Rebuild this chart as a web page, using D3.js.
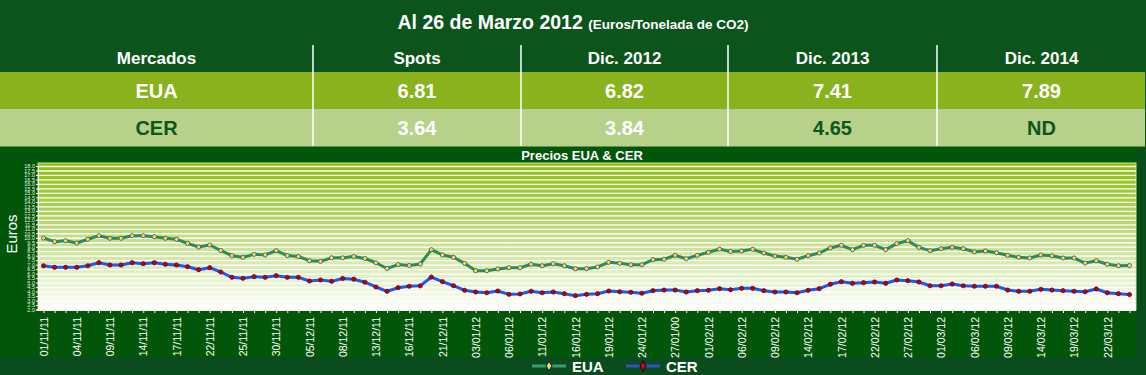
<!DOCTYPE html>
<html>
<head>
<meta charset="utf-8">
<script src="https://cdn.jsdelivr.net/npm/d3@7/dist/d3.min.js"></script>
<style>
    body { margin: 0; background: #0b4c1e; }
    svg { display: block; }
</style>
</head>
<body>
<div id="container"></div>
<script>
// table data
const titleMain = "Al 26 de Marzo 2012"
const titleSub = "(Euros/Tonelada de CO2)"
const columns = ["Mercados", "Spots", "Dic. 2012", "Dic. 2013", "Dic. 2014"]
const euaRow = ["EUA", "6.81", "6.82", "7.41", "7.89"]
const cerRow = ["CER", "3.64", "3.84", "4.65", "ND"]

// chart data
const chartTitle = "Precios EUA & CER"
const yLabel = "Euros"
const seriesNames = ["EUA", "CER"]
const dates = [
    "01/11/11", "02/11/11", "03/11/11", "04/11/11", "07/11/11", "08/11/11", "09/11/11", "10/11/11",
    "11/11/11", "14/11/11", "15/11/11", "16/11/11", "17/11/11", "18/11/11", "21/11/11", "22/11/11",
    "23/11/11", "24/11/11", "25/11/11", "28/11/11", "29/11/11", "30/11/11",
    "01/12/11", "02/12/11", "05/12/11", "06/12/11", "07/12/11", "08/12/11", "09/12/11", "12/12/11",
    "13/12/11", "14/12/11", "15/12/11", "16/12/11", "19/12/11", "20/12/11", "21/12/11", "22/12/11",
    "23/12/11",
    "03/01/12", "04/01/12", "05/01/12", "06/01/12", "09/01/12", "10/01/12", "11/01/12", "12/01/12",
    "13/01/12", "16/01/12", "17/01/12", "18/01/12", "19/01/12", "20/01/12", "23/01/12", "24/01/12",
    "25/01/12", "26/01/12", "27/01/00", "30/01/12", "31/01/12",
    "01/02/12", "02/02/12", "03/02/12", "06/02/12", "07/02/12", "08/02/12", "09/02/12", "10/02/12",
    "13/02/12", "14/02/12", "15/02/12", "16/02/12", "17/02/12", "20/02/12", "21/02/12", "22/02/12",
    "23/02/12", "24/02/12", "27/02/12", "28/02/12", "29/02/12",
    "01/03/12", "02/03/12", "05/03/12", "06/03/12", "07/03/12", "08/03/12", "09/03/12", "12/03/12",
    "13/03/12", "14/03/12", "15/03/12", "16/03/12", "19/03/12", "20/03/12", "21/03/12", "22/03/12",
    "23/03/12", "26/03/12"
]
const eua = [
    9.97, 9.56, 9.67, 9.41, 9.83, 10.23, 9.94, 9.94, 10.23, 10.23, 10.12, 9.94, 9.83, 9.38, 8.97, 9.19,
    8.58, 8.00, 7.82, 8.15, 8.08, 8.56,
    8.01, 7.91, 7.44, 7.37, 7.76, 7.76, 7.91, 7.69, 7.21, 6.57, 7.01, 6.91, 7.07, 8.67, 8.08, 7.82,
    7.15,
    6.33, 6.33, 6.52, 6.66, 6.66, 7.04, 6.88, 7.11, 6.88, 6.55, 6.55, 6.74, 7.26, 7.15, 6.99, 6.99,
    7.55, 7.60, 8.04, 7.66, 8.04,
    8.38, 8.72, 8.47, 8.52, 8.71, 8.30, 7.96, 7.82, 7.60, 8.00, 8.30, 8.86, 9.16, 8.67, 9.16, 9.16,
    8.67, 9.34, 9.67, 8.93, 8.56,
    8.78, 8.93, 8.78, 8.44, 8.52, 8.33, 8.04, 7.82, 7.74, 8.08, 8.00, 7.74, 7.74, 7.18, 7.44, 7.04,
    6.88, 6.90
]
const cer = [
    6.88, 6.70, 6.70, 6.70, 6.88, 7.22, 6.96, 6.96, 7.22, 7.11, 7.22, 7.04, 6.96, 6.77, 6.44, 6.66,
    6.18, 5.59, 5.48, 5.66, 5.59, 5.77,
    5.59, 5.59, 5.18, 5.29, 5.14, 5.46, 5.38, 5.04, 4.51, 4.03, 4.43, 4.59, 4.64, 5.62, 5.10, 4.65,
    4.14,
    3.95, 3.87, 4.06, 3.69, 3.73, 4.03, 3.87, 3.95, 3.76, 3.54, 3.69, 3.76, 4.06, 3.98, 3.92, 3.81,
    4.10, 4.17, 4.17, 3.95, 4.10,
    4.14, 4.32, 4.20, 4.36, 4.36, 4.10, 3.95, 3.95, 3.87, 4.14, 4.32, 4.81, 5.10, 4.92, 4.99, 5.07,
    4.92, 5.29, 5.21, 5.07, 4.65,
    4.65, 4.84, 4.65, 4.59, 4.59, 4.59, 4.17, 4.03, 4.03, 4.25, 4.17, 4.10, 4.03, 3.98, 4.29, 3.87,
    3.76, 3.66
]

const width = 1146
const height = 375
const narrow = "'Liberation Sans Narrow', 'Arial Narrow', sans-serif"
const sans = "'Liberation Sans', Arial, sans-serif"

const svg = d3.select("#container").append("svg")
    .attr("width", width)
    .attr("height", height)

const defs = svg.append("defs")
const grad = defs.append("linearGradient")
    .attr("id", "plotGradient")
    .attr("x1", 0).attr("y1", 0).attr("x2", 0).attr("y2", 1)
grad.append("stop").attr("offset", "0%").attr("stop-color", "#86bf06")
grad.append("stop").attr("offset", "45%").attr("stop-color", "#bcdb78")
grad.append("stop").attr("offset", "100%").attr("stop-color", "#ffffff")

// backgrounds
svg.append("rect").attr("width", width).attr("height", 147).attr("fill", "#0b541b")
svg.append("rect").attr("y", 147).attr("width", 1137).attr("height", 210).attr("fill", "#02560a")

// title
const title = svg.append("text")
    .attr("x", 573).attr("y", 29)
    .attr("text-anchor", "middle")
    .attr("fill", "#ffffff")
    .attr("font-weight", "bold")
title.append("tspan").attr("font-family", sans).attr("font-size", 19.5).text(titleMain + " ")
title.append("tspan").attr("font-family", narrow).attr("font-size", 13.5).text(titleSub)

// table
const colEdges = [0, 313, 521, 728, 937, 1146]
const colX = d3.scaleOrdinal()
    .domain(d3.range(columns.length))
    .range(d3.range(columns.length).map(i => (colEdges[i] + colEdges[i + 1]) / 2))

svg.append("rect").attr("y", 72).attr("width", 1145).attr("height", 36.5).attr("fill", "#89b21c")
svg.append("rect").attr("y", 108.5).attr("width", 1145).attr("height", 38).attr("fill", "#b7d08a")

svg.append("g")
    .selectAll("text")
    .data(columns)
    .enter()
    .append("text")
    .attr("x", (_d, i) => colX(i))
    .attr("y", 64)
    .attr("text-anchor", "middle")
    .attr("font-family", narrow)
    .attr("font-weight", "bold")
    .attr("font-size", 17)
    .attr("fill", "#ffffff")
    .text(d => d)

svg.append("g")
    .selectAll("text")
    .data(euaRow)
    .enter()
    .append("text")
    .attr("x", (_d, i) => colX(i))
    .attr("y", 98)
    .attr("text-anchor", "middle")
    .attr("font-family", sans)
    .attr("font-weight", "bold")
    .attr("font-size", 20)
    .attr("fill", "#ffffff")
    .text(d => d)

// CER row: label and later contracts in dark green
const cerColors = ["#0d561c", "#ffffff", "#ffffff", "#0d561c", "#0d561c"]
svg.append("g")
    .selectAll("text")
    .data(cerRow)
    .enter()
    .append("text")
    .attr("x", (_d, i) => colX(i))
    .attr("y", 135)
    .attr("text-anchor", "middle")
    .attr("font-family", sans)
    .attr("font-weight", "bold")
    .attr("font-size", 20)
    .attr("fill", (_d, i) => cerColors[i])
    .text(d => d)

svg.append("g")
    .selectAll("line")
    .data(colEdges.slice(1, -1))
    .enter()
    .append("line")
    .attr("x1", d => d).attr("x2", d => d)
    .attr("y1", 45).attr("y2", 146)
    .attr("stroke", "#ffffff")
    .attr("stroke-width", 1.5)

// chart
const plot = { left: 38, right: 1136, top: 163, bottom: 310 }

const xScale = d3.scalePoint()
    .domain(dates)
    .range([43.5, 1129.5])

const yScale = d3.scaleLinear()
    .domain([2, 18])
    .range([309.5, 166])

svg.append("text")
    .attr("x", 582).attr("y", 159.5)
    .attr("text-anchor", "middle")
    .attr("font-family", narrow)
    .attr("font-weight", "bold")
    .attr("font-size", 13)
    .attr("fill", "#ffffff")
    .text(chartTitle)

svg.append("rect")
    .attr("x", plot.left).attr("y", plot.top)
    .attr("width", plot.right - plot.left)
    .attr("height", plot.bottom - plot.top)
    .attr("fill", "url(#plotGradient)")
    .attr("stroke", "#cfe39c")
    .attr("stroke-width", 1)

// y grid
svg.append("g")
    .attr("transform", `translate(${plot.left},0)`)
    .call(d3.axisLeft(yScale).ticks(32).tickSize(-(plot.right - plot.left)).tickFormat(() => ""))
    .call(g => g.select(".domain").remove())
    .selectAll("line")
    .attr("stroke", "#ffffff")
    .attr("stroke-width", 1.3)

// y axis
const yAxis = svg.append("g")
    .attr("transform", `translate(${plot.left},0)`)
    .call(d3.axisLeft(yScale).ticks(32).tickSize(2).tickFormat(d3.format(".1f")))
yAxis.select(".domain").attr("stroke", "#ffffff")
yAxis.selectAll("line").attr("stroke", "#ffffff")
yAxis.selectAll("text")
    .attr("x", -3)
    .attr("fill", "#e8f0e0")
    .attr("font-family", narrow)
    .attr("font-size", 5.5)

svg.append("text")
    .attr("transform", "rotate(-90)")
    .attr("x", -234).attr("y", 17)
    .attr("text-anchor", "middle")
    .attr("font-family", sans)
    .attr("font-size", 15)
    .attr("fill", "#ffffff")
    .text(yLabel)

// x axis
const xAxis = svg.append("g")
    .attr("transform", `translate(0,${plot.bottom})`)
    .call(d3.axisBottom(xScale).tickSize(3)
        .tickFormat((d, i) => i % 3 === 0 ? d : ""))
xAxis.select(".domain").attr("stroke", "#ffffff").attr("d", `M${plot.left},0H${plot.right}`)
xAxis.selectAll("line").attr("stroke", "#ffffff")
xAxis.selectAll("text")
    .attr("transform", "rotate(-90)")
    .attr("x", -7)
    .attr("y", 0)
    .attr("dy", "0.35em")
    .style("text-anchor", "end")
    .attr("fill", "#ffffff")
    .attr("font-family", narrow)
    .attr("font-size", 10.5)

// lines
const styles = [
    { data: eua, line: "#2d8c58", fill: "#ece24a", stroke: "#4a4a7a", legendLine: "#3d9c6c" },
    { data: cer, line: "#2355f2", fill: "#c20000", stroke: "#5a0a20", legendLine: "#3451c4" },
]

const line = d3.line()
    .x((_d, i) => xScale(dates[i]))
    .y(d => yScale(d))

for (const s of styles) {
    svg.append("path")
        .datum(s.data)
        .attr("d", line)
        .attr("fill", "none")
        .attr("stroke", s.line)
        .attr("stroke-width", 3)
        .attr("stroke-linejoin", "round")

    svg.append("g")
        .selectAll("circle")
        .data(s.data)
        .enter()
        .append("circle")
        .attr("cx", (_d, i) => xScale(dates[i]))
        .attr("cy", d => yScale(d))
        .attr("r", 2.1)
        .attr("fill", s.fill)
        .attr("stroke", s.stroke)
        .attr("stroke-width", 0.8)
}

// legend
const legendX = [532, 626]
const legend = svg.append("g")
    .selectAll("g")
    .data(seriesNames)
    .enter()
    .append("g")
    .attr("transform", (_d, i) => `translate(${legendX[i]},366)`)
legend.append("line")
    .attr("x1", 0).attr("x2", 34)
    .attr("stroke", (_d, i) => styles[i].legendLine)
    .attr("stroke-width", 3)
legend.append("path")
    .attr("d", d3.symbol(d3.symbolDiamond, 30))
    .attr("transform", "translate(17,0)")
    .attr("fill", (_d, i) => i === 0 ? "#f4e42c" : "#e8000a")
    .attr("stroke", (_d, i) => i === 0 ? "#16207a" : "#1a1020")
    .attr("stroke-width", 1.2)
legend.append("text")
    .attr("x", 40).attr("y", 6)
    .attr("font-family", narrow)
    .attr("font-weight", "bold")
    .attr("font-size", 15)
    .attr("fill", "#ffffff")
    .text(d => d)
</script>
</body>
</html>
